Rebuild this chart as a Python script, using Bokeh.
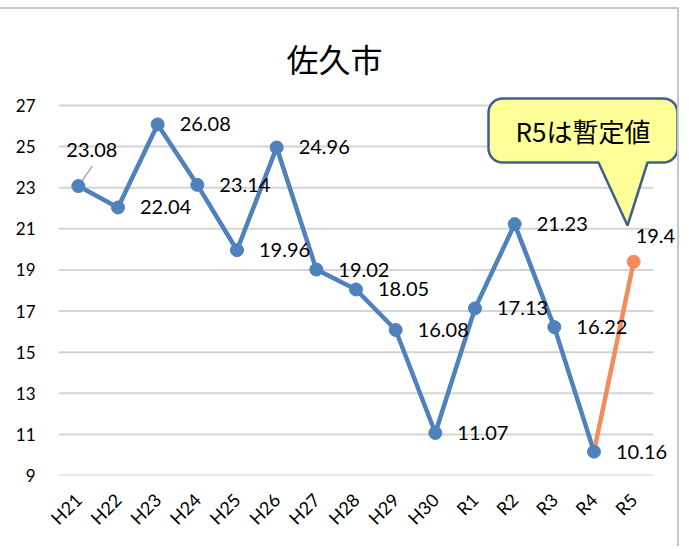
import math
import numpy as np
from bokeh.plotting import figure
from bokeh.models import ColumnDataSource, FixedTicker, Range1d
from bokeh.core.properties import value
from bokeh.embed import file_html
from bokeh.resources import INLINE

# ---- data ----
categories = ["H21", "H22", "H23", "H24", "H25", "H26", "H27", "H28",
              "H29", "H30", "R1", "R2", "R3", "R4", "R5"]
values = [23.08, 22.04, 26.08, 23.14, 19.96, 24.96, 19.02, 18.05,
          16.08, 11.07, 17.13, 21.23, 16.22, 10.16, 19.4]
label_texts = ["23.08", "22.04", "26.08", "23.14", "19.96", "24.96", "19.02",
               "18.05", "16.08", "11.07", "17.13", "21.23", "16.22", "10.16", "19.4"]
y_ticks = [9, 11, 13, 15, 17, 19, 21, 23, 25, 27]
title_text = "佐久市"
callout_text = "R5は暫定値"

n = len(categories)
xs = list(range(n))

BLUE = "#4f81bd"
ORANGE = "#f58a5b"
GRID = "#d4d4d4"
LATIN = "Lato"
CJK = "Noto Sans CJK JP"

# layout (pixels); the figure sits at the page's top-left corner
TOP_GAP = 7
W, H = 679, 539
MB_LEFT, MB_RIGHT, MB_TOP, MB_BOTTOM = 58, 0, 87, 73
frame_w = W - MB_LEFT - MB_RIGHT
frame_h = H - MB_TOP - MB_BOTTOM
px_per_x = 595.0 / n          # category band width
px_per_y = 370.0 / 18.0       # value unit height
x_start = -0.5
x_end = x_start + frame_w / px_per_x
y_start = y_ticks[0]
y_end = y_start + frame_h / px_per_y

p = figure(width=W, height=H, output_backend="svg", toolbar_location=None,
           x_range=Range1d(x_start, x_end), y_range=Range1d(y_start, y_end),
           min_border_left=MB_LEFT, min_border_right=MB_RIGHT,
           min_border_top=MB_TOP, min_border_bottom=MB_BOTTOM,
           background_fill_color="white", border_fill_color="white")
p.outline_line_color = None
p.styles = {"margin-top": f"{TOP_GAP}px",
            "border-top": "2px solid #c8c8c8",
            "border-right": "2px solid #c8c8c8"}

# title
p.title.text = title_text
p.title.text_font = CJK
p.title.text_font_size = "32px"
p.title.text_font_style = "normal"
p.title.text_color = "#000000"
p.title.align = "left"
p.title.offset = 228
p.title.standoff = 32

# axes
p.xgrid.visible = False
p.ygrid.visible = False
p.xaxis.ticker = FixedTicker(ticks=xs)
p.xaxis.major_label_overrides = {i: c for i, c in enumerate(categories)}
p.xaxis[0].major_label_orientation = math.pi / 4
p.yaxis.ticker = FixedTicker(ticks=y_ticks)
for ax in (p.xaxis[0], p.yaxis[0]):
    ax.axis_line_color = None
    ax.major_tick_line_color = None
    ax.minor_tick_line_color = None
    ax.major_tick_out = 0
    ax.major_tick_in = 0
    ax.major_label_text_font = LATIN
    ax.major_label_text_color = "#000000"
p.yaxis.major_label_text_font_size = "17px"
p.xaxis.major_label_text_font_size = "18px"
p.yaxis.major_label_standoff = 23
p.xaxis.major_label_standoff = 21

# gridlines (limited to the category span)
p.segment(x0=[x_start] * len(y_ticks), x1=[n - 0.5] * len(y_ticks),
          y0=y_ticks, y1=y_ticks, line_color=GRID, line_width=2)

# leader line for the first label
p.segment(x0=[xs[0]], y0=[values[0]], x1=[xs[0] + 14 / px_per_x],
          y1=[values[0] + 20 / px_per_y], line_color="#a6a6a6", line_width=1.5)

# series
p.line(xs[:-1], values[:-1], line_color=BLUE, line_width=4.5)
p.line(xs[-2:], values[-2:], line_color=ORANGE, line_width=4.5)
p.scatter(xs[:-1], values[:-1], size=13, fill_color=BLUE, line_color=BLUE)
p.scatter(xs[-1:], values[-1:], size=13, fill_color=ORANGE, line_color=ORANGE)

# data labels
x_off = [22] * n
y_off = [0] * n
x_off[0], y_off[0] = -12, -36
x_off[-1], y_off[-1] = 2, -26
lab = ColumnDataSource(dict(x=xs, y=values, t=label_texts, xo=x_off, yo=y_off))
p.text(x="x", y="y", text="t", x_offset="xo", y_offset="yo", source=lab,
       text_font=value(LATIN), text_font_size="20px", text_color="#000000",
       text_align="left", text_baseline="middle")

# callout (pixel geometry converted to data space)
FRAME_LEFT_PX = 58
FRAME_BOTTOM_PX = 475


def dx(px):
    return x_start + (px - FRAME_LEFT_PX) / px_per_x


def dy(py):
    return y_start + (FRAME_BOTTOM_PX - py) / px_per_y


L, R, T, B, r = 488, 677, 98, 162, 14
pl, pr, tipx, tipy = 598, 647, 627, 225
pts = []


def arc(cx, cy, a0, a1):
    for a in np.linspace(math.radians(a0), math.radians(a1), 10):
        pts.append((cx + r * math.cos(a), cy + r * math.sin(a)))


pts.append((L + r, T))
arc(R - r, T + r, -90, 0)
arc(R - r, B - r, 0, 90)
pts.append((pr, B))
pts.append((tipx, tipy))
pts.append((pl, B))
arc(L + r, B - r, 90, 180)
arc(L + r, T + r, 180, 270)
p.patch([dx(a) for a, b in pts], [dy(b) for a, b in pts],
        fill_color="#ffff99", line_color="#3f5f8f", line_width=2.5)
p.text(x=[dx((L + R) / 2)], y=[dy(130)], text=[callout_text],
       text_font=value(CJK), text_font_size="26px", text_color="#000000",
       text_align="center", text_baseline="middle")

open("out.html", "w").write(file_html(p, INLINE))
